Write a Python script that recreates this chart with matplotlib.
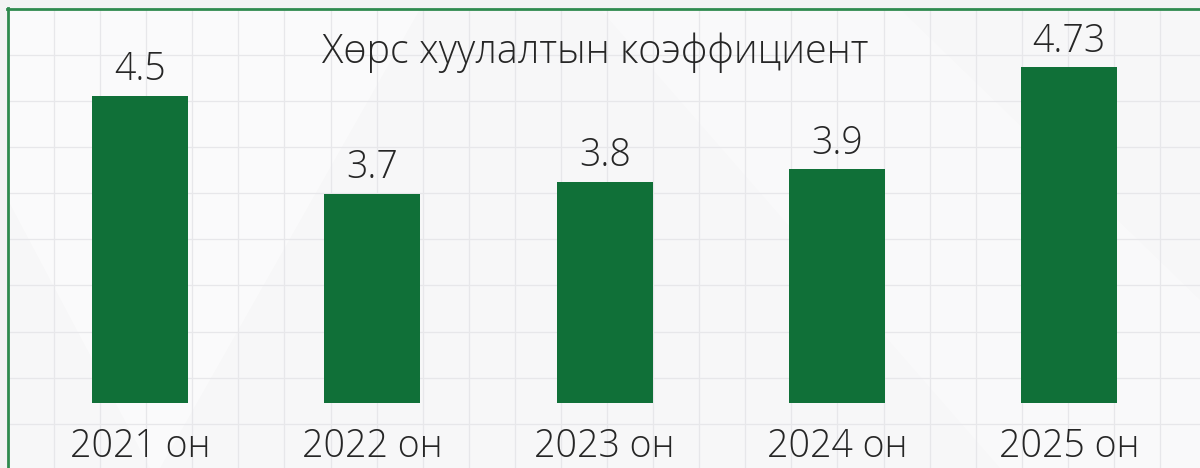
import matplotlib.pyplot as plt
from matplotlib.patches import Polygon
import numpy as np

# data
years = ["2021 он", "2022 он", "2023 он", "2024 он", "2025 он"]
values = [4.5, 3.7, 3.8, 3.9, 4.73]
title = "Хөрс хуулалтын коэффициент"

W, H = 1200, 468
green = "#107038"
border = "#2f8a4f"
txt = "#262626"
fam = ["Open Sans", "DejaVu Sans"]

fig = plt.figure(figsize=(W / 100, H / 100), dpi=100)
fig.patch.set_facecolor("#f3f3f4")

# background with grid (pixel coords)
bg = fig.add_axes([0, 0, 1, 1])
bg.set_xlim(0, W)
bg.set_ylim(H, 0)
bg.axis("off")
bg.add_patch(Polygon([[8, 9], [W, 9], [W, H], [8, H]], closed=True,
                     facecolor="#f7f7f8", edgecolor="none", zorder=0))
# faint light shapes
bg.add_patch(Polygon([[8, 200], [8, 9], [420, 9], [160, H], [150, H]], closed=True,
                     facecolor="white", alpha=0.45, edgecolor="none", zorder=0.5))
bg.add_patch(Polygon([[600, 9], [900, 9], [1200, 300], [1200, 468], [1000, 468]], closed=True,
                     facecolor="white", alpha=0.3, edgecolor="none", zorder=0.5))
step = 46.08
for x in np.arange(8 + step, W, step):
    bg.plot([x, x], [9, H], color="#e7e7ea", lw=0.9, zorder=1)
for y in np.arange(9 + step, H, step):
    bg.plot([8, W], [y, y], color="#e7e7ea", lw=0.9, zorder=1)
bg.plot([7.5, 7.5], [8, H], color=border, lw=2, zorder=2)
bg.plot([7, W], [8.5, 8.5], color=border, lw=2, zorder=2)

# bar chart
ax = fig.add_axes([24 / W, (H - 403) / H, 1161.5 / W, 381 / H])
ax.patch.set_alpha(0)
x = np.arange(len(years))
ax.bar(x, values, width=0.413, bottom=0, color=green, zorder=3)
ax.set_xlim(-0.5, len(years) - 0.5)
ax.set_ylim(2.0, 5.1)
ax.axis("off")

for i, v in enumerate(values):
    ax.annotate(str(v), (i, v), xytext=(0, 11.5), textcoords="offset points",
                ha="center", va="baseline", fontsize=27, color=txt,
                family=fam, weight="light")
    ax.annotate(years[i], (i, 2.0), xytext=(0, -39), textcoords="offset points",
                ha="center", va="baseline", fontsize=27, color=txt,
                family=fam, weight="light", annotation_clip=False)

fig.text(595 / W, 1 - 63 / H, title, ha="center", va="baseline", fontsize=28.5,
         color=txt, family=fam, weight="light")

fig.savefig("out.png", dpi=100)
